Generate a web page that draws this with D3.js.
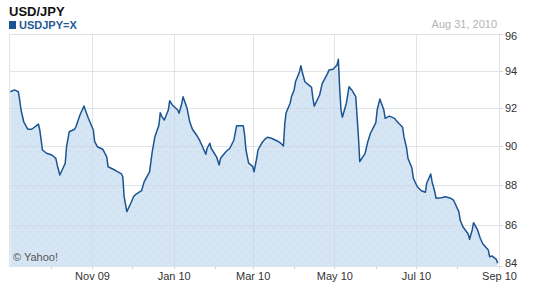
<!DOCTYPE html>
<meta charset="utf-8">
<style>

body {
  margin: 0;
  background: #fff;
  font: 11px "Liberation Sans", Arial, sans-serif;
}

.grid line {
  stroke: #c9d3de;
  stroke-opacity: 0.6;
  shape-rendering: crispEdges;
}

.axis path {
  display: none;
}

.axis line {
  stroke: #d4d8dd;
  shape-rendering: crispEdges;
}

.axis text {
  fill: #333;
  font: 11px "Liberation Sans", Arial, sans-serif;
}

</style>

<body>
<script src="https://cdn.jsdelivr.net/npm/d3@7/dist/d3.min.js"></script>
<script>

// USD/JPY daily close
var dates = [
  "2009-09-01","2009-09-04","2009-09-07","2009-09-08","2009-09-09","2009-09-11","2009-09-14","2009-09-17",
  "2009-09-22","2009-09-23","2009-09-24","2009-09-25","2009-09-28","2009-10-02","2009-10-05","2009-10-06",
  "2009-10-08","2009-10-12","2009-10-13","2009-10-15","2009-10-19","2009-10-20","2009-10-23","2009-10-26",
  "2009-10-27","2009-10-29","2009-11-02","2009-11-03","2009-11-05","2009-11-09","2009-11-12","2009-11-13",
  "2009-11-18","2009-11-23","2009-11-24","2009-11-25","2009-11-27","2009-11-30","2009-12-02","2009-12-04",
  "2009-12-08","2009-12-10","2009-12-14","2009-12-15","2009-12-16","2009-12-18","2009-12-21","2009-12-22",
  "2009-12-23","2009-12-25","2009-12-28","2009-12-29","2009-12-31","2010-01-04","2010-01-05","2010-01-07",
  "2010-01-08","2010-01-11","2010-01-13","2010-01-15","2010-01-18","2010-01-20","2010-01-22","2010-01-25",
  "2010-01-26","2010-01-28","2010-01-29","2010-02-02","2010-02-04","2010-02-05","2010-02-09","2010-02-12",
  "2010-02-15","2010-02-17","2010-02-22","2010-02-23","2010-02-24","2010-02-26","2010-03-01","2010-03-02",
  "2010-03-04","2010-03-05","2010-03-08","2010-03-10","2010-03-12","2010-03-15","2010-03-19","2010-03-22",
  "2010-03-24","2010-03-25","2010-03-26","2010-03-29","2010-03-30","2010-04-01","2010-04-02","2010-04-05",
  "2010-04-06","2010-04-07","2010-04-09","2010-04-12","2010-04-14","2010-04-15","2010-04-16","2010-04-20",
  "2010-04-22","2010-04-26","2010-04-27","2010-04-30","2010-05-03","2010-05-04","2010-05-05","2010-05-06",
  "2010-05-07","2010-05-10","2010-05-12","2010-05-14","2010-05-17","2010-05-18","2010-05-19","2010-05-20",
  "2010-05-24","2010-05-26","2010-05-28","2010-06-01","2010-06-02","2010-06-04","2010-06-07","2010-06-08",
  "2010-06-11","2010-06-15","2010-06-17","2010-06-21","2010-06-22","2010-06-24","2010-06-25","2010-06-28",
  "2010-06-29","2010-07-02","2010-07-05","2010-07-08","2010-07-09","2010-07-12","2010-07-13","2010-07-15",
  "2010-07-16","2010-07-20","2010-07-23","2010-07-27","2010-07-29","2010-08-02","2010-08-03","2010-08-05",
  "2010-08-09","2010-08-10","2010-08-12","2010-08-13","2010-08-16","2010-08-18","2010-08-20","2010-08-24",
  "2010-08-25","2010-08-27","2010-08-30","2010-08-31"
];

var closes = [
  92.86,92.96,92.86,92.42,91.89,91.27,90.88,90.88,
  91.15,90.84,90.32,89.80,89.63,89.54,89.37,89.03,
  88.52,89.12,89.97,90.75,90.88,91.01,91.63,92.10,
  91.89,91.51,90.84,90.23,89.97,89.84,89.45,88.94,
  88.77,88.57,88.43,87.42,86.67,87.09,87.42,87.55,
  87.72,88.18,88.68,89.20,89.71,90.49,91.10,91.75,
  91.57,91.36,91.89,92.38,92.16,91.89,91.72,92.21,
  92.60,91.98,91.27,90.88,90.58,90.35,90.06,89.58,
  89.89,90.15,89.89,89.45,89.03,89.37,89.71,89.89,
  90.32,91.06,91.06,90.58,89.80,89.12,88.96,88.68,
  89.37,89.80,90.18,90.35,90.46,90.41,90.28,90.15,
  90.01,91.19,91.75,92.25,92.60,92.96,93.40,93.94,
  94.26,93.94,93.40,93.22,93.10,92.51,92.10,92.69,
  93.31,93.85,94.03,94.07,94.30,94.61,93.05,91.89,
  91.51,92.25,93.13,92.96,92.60,91.54,90.49,89.20,
  89.63,90.23,90.67,91.23,91.89,92.47,91.89,91.45,
  91.57,91.45,91.27,90.98,90.49,89.89,89.37,88.86,
  88.35,87.92,87.72,87.64,88.10,88.57,88.18,87.67,
  87.34,87.37,87.42,87.34,87.25,86.67,86.25,85.92,
  85.56,85.30,85.76,86.12,85.76,85.35,85.07,84.78,
  84.45,84.48,84.32,84.13
];

var yTicks = [84, 86, 88, 90, 92, 94, 96];
var xDomain = ["2009-08-31", "2010-09-01"];
var title = "USD/JPY", symbol = "USDJPY=X", asOf = "Aug 31, 2010";

var parseDate = d3.timeParse("%Y-%m-%d");
var data = dates.map(function(d, i) { return {date: parseDate(d), close: closes[i]}; });

var W = 552, H = 289;
var margin = {top: 34, right: 53, bottom: 23, left: 9},
    width = W - margin.left - margin.right,
    height = H - margin.top - margin.bottom;

var svg = d3.select("body").append("svg")
    .attr("width", W)
    .attr("height", H);

var defs = svg.append("defs");
var pat = defs.append("pattern")
    .attr("id", "dots")
    .attr("patternUnits", "userSpaceOnUse")
    .attr("width", 8).attr("height", 8);
pat.append("rect").attr("width", 8).attr("height", 8).attr("fill", "#d6e5f3");
pat.append("rect").attr("x", 1).attr("y", 1).attr("width", 1).attr("height", 1).attr("fill", "#c1d5e8");
pat.append("rect").attr("x", 5).attr("y", 5).attr("width", 1).attr("height", 1).attr("fill", "#c1d5e8");

var g = svg.append("g")
    .attr("transform", "translate(" + margin.left + "," + margin.top + ")");

var x = d3.scaleTime()
    .domain(xDomain.map(parseDate))
    .range([0, width]);

var y = d3.scaleLog()
    .domain([84, 96])
    .range([height, 0]);

var majorMonths = d3.timeMonths(parseDate("2009-11-01"), parseDate("2010-09-02"), 2);
var allMonths = d3.timeMonths(parseDate("2009-09-02"), parseDate("2010-09-02"));

// area + line
var area = d3.area()
    .x(function(d) { return x(d.date); })
    .y0(height)
    .y1(function(d) { return y(d.close); });

var line = d3.line()
    .x(function(d) { return x(d.date); })
    .y(function(d) { return y(d.close); });

g.append("path")
    .datum(data)
    .attr("fill", "url(#dots)")
    .attr("d", area);

// grid on top of the fill
g.append("g")
    .attr("class", "grid")
    .call(d3.axisLeft(y).tickValues(yTicks).tickSize(-width).tickFormat(""))
    .call(function(s) { s.select(".domain").remove(); });

g.append("g")
    .attr("class", "grid")
    .attr("transform", "translate(0," + height + ")")
    .call(d3.axisBottom(x).tickValues(majorMonths).tickSize(-height).tickFormat(""))
    .call(function(s) { s.select(".domain").remove(); });

g.append("path")
    .datum(data)
    .attr("fill", "none")
    .attr("stroke", "#1b5591")
    .attr("stroke-width", 1.5)
    .attr("stroke-linejoin", "round")
    .attr("d", line);

// frame
g.append("rect")
    .attr("x", 0.5).attr("y", 0.5)
    .attr("width", width).attr("height", height)
    .attr("fill", "none")
    .attr("stroke", "#dfe2e6");

// axes
g.append("g")
    .attr("class", "axis")
    .attr("transform", "translate(" + width + ",0)")
    .call(d3.axisRight(y).tickValues(yTicks).tickSize(4).tickPadding(2).tickFormat(d3.format("d")))
    .selectAll("text")
    .attr("dy", function(d) { return d == 96 ? "0.5em" : d == 84 ? "0" : "0.32em"; });

g.append("g")
    .attr("class", "axis")
    .attr("transform", "translate(0," + height + ")")
    .call(d3.axisBottom(x).tickValues(allMonths).tickSize(3).tickPadding(3)
      .tickFormat(function(d) { return d.getMonth() % 2 == 0 ? d3.timeFormat("%b %y")(d) : ""; }));

// labels
svg.append("text")
    .text(title)
    .attr("x", 9).attr("y", 16)
    .attr("fill", "#111")
    .style("font", "bold 13px 'Liberation Sans', Arial, sans-serif");

svg.append("rect")
    .attr("x", 9).attr("y", 21)
    .attr("width", 7).attr("height", 8)
    .attr("fill", "#1b5591");

svg.append("text")
    .text(symbol)
    .attr("x", 19).attr("y", 29)
    .attr("fill", "#1f5a97")
    .style("font", "bold 11px 'Liberation Sans', Arial, sans-serif");

svg.append("text")
    .text(asOf)
    .attr("x", 497).attr("y", 28)
    .attr("text-anchor", "end")
    .attr("fill", "#b4b4b4")
    .style("font", "11px 'Liberation Sans', Arial, sans-serif");

svg.append("text")
    .text("\u00a9 Yahoo!")
    .attr("x", 13).attr("y", 261)
    .attr("fill", "#555")
    .style("font", "11px 'Liberation Sans', Arial, sans-serif");

</script>
</body>
